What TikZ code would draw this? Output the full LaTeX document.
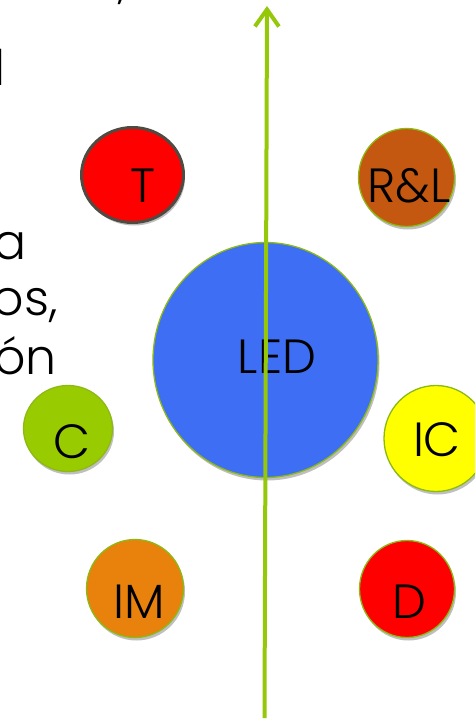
\documentclass[tikz,border=0pt]{standalone}
\usepackage{fontspec}
\setmainfont{Poppins}[UprightFont=* Light]
\usetikzlibrary{shapes.geometric,shadows,arrows.meta}
\definecolor{ledblue}{RGB}{61,110,243}
\definecolor{rlbrown}{RGB}{197,88,16}
\definecolor{cgreen}{RGB}{153,204,0}
\definecolor{imorange}{RGB}{232,130,12}
\definecolor{icyellow}{RGB}{255,255,0}
\definecolor{dred}{RGB}{255,0,0}
\definecolor{tgray}{RGB}{80,75,66}
\definecolor{rimgreen}{RGB}{140,185,20}
\definecolor{arrowgreen}{RGB}{150,200,10}
\tikzset{
  bub/.style={ellipse, inner sep=0pt, draw=rimgreen, line width=1.3pt,
    drop shadow={shadow xshift=1.5pt, shadow yshift=-3pt, opacity=0.25, fill=black}},
  lbl/.style={anchor=base, inner sep=0pt, font=\fontsize{48}{50}\selectfont, text=black},
  side/.style={anchor=base east, inner sep=0pt, font=\fontsize{49}{52}\selectfont, text=black},
}
\begin{document}
\begin{tikzpicture}[x=1pt,y=-1pt]
\useasboundingbox (0,0) rectangle (475,723);
\clip (0,0) rectangle (475,723);
\fill[white] (0,0) rectangle (475,723);
% left text fragments
\node[side] (t0) at (127,-3) {,};
\node[side] (t1) at (6,85) {d};
\node[side] (t2) at (27,259) {a};
\node[side] (t3) at (58,315) {os,};
\node[side] (t4) at (57,374) {ón};
% bubbles
\node[bub, draw=tgray, line width=3pt, fill=dred, minimum width=102pt, minimum height=95pt, drop shadow={opacity=0}] (T) at (132.5,175) {};
\node[bub, fill=rlbrown, minimum width=96pt, minimum height=98pt] (RL) at (406.5,177.5) {};
\node[bub, fill=ledblue, minimum width=225pt, minimum height=235pt] (LED) at (265.5,360) {};
\node[bub, fill=cgreen, minimum width=89pt, minimum height=86pt] (C) at (68,428.5) {};
\node[bub, fill=imorange, minimum width=97pt, minimum height=98pt] (IM) at (135,588.5) {};
\node[bub, fill=icyellow, minimum width=104pt, minimum height=106pt] (IC) at (436,438.5) {};
\node[bub, fill=dred, minimum width=95pt, minimum height=97pt] (D) at (407,589) {};
% labels
\node[lbl] (lT) at (142.5,202) {T};
\node[lbl] (lRL) at (409,202) {R\&L};
\node[lbl] (lLED) at (277,373) {LED};
\node[lbl] (lC) at (72.5,458) {C};
\node[lbl] (lIM) at (139,618) {IM};
\node[lbl] (lIC) at (437,456) {IC};
\node[lbl] (lD) at (409,618) {D};
% axis arrow
\coordinate (abot) at (264.5,718);
\coordinate (atop) at (267,6);
\draw[arrowgreen, line width=4pt, -{Straight Barb[length=17pt,width=24pt,line width=4pt]}] (abot) -- (atop);
\end{tikzpicture}
\end{document}
